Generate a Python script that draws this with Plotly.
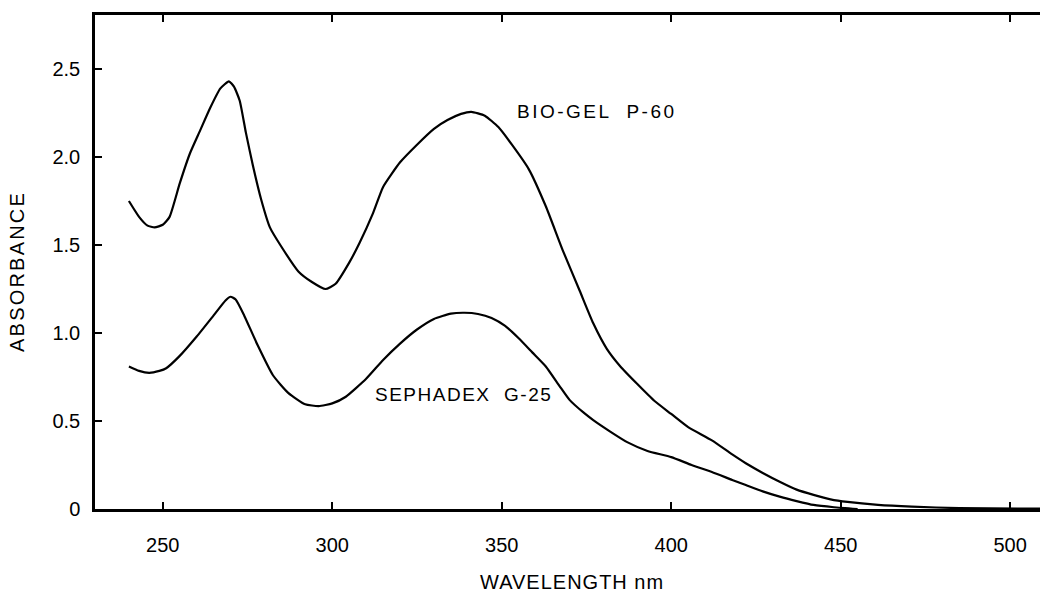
import plotly.graph_objects as go

# BIO-GEL P-60 spectrum
bio_nm = [240, 243, 245.5, 247.6, 250, 252, 255, 258, 261, 264, 267, 269.5, 271, 272.7,
          274.5, 276.6, 279, 281.6, 285, 290, 294, 298, 301, 305, 308, 312, 315, 320, 325,
          330, 334, 338, 341, 345, 349, 353, 358, 363, 368, 373, 377, 381, 385, 390, 395,
          400, 405, 412, 418, 422, 427, 432, 437, 442, 447, 452, 461, 471, 485, 509]
bio_abs = [1.75, 1.66, 1.61, 1.60, 1.615, 1.66, 1.85, 2.02, 2.15, 2.28, 2.39, 2.43, 2.40, 2.32,
           2.14, 1.95, 1.76, 1.60, 1.49, 1.35, 1.29, 1.25, 1.28, 1.40, 1.51, 1.68, 1.83, 1.97, 2.07,
           2.16, 2.21, 2.245, 2.257, 2.235, 2.17, 2.07, 1.93, 1.72, 1.47, 1.24, 1.055, 0.91, 0.81, 0.71, 0.615,
           0.54, 0.465, 0.39, 0.31, 0.26, 0.205, 0.155, 0.11, 0.08, 0.055, 0.04, 0.023, 0.013, 0.005, 0.002]

# SEPHADEX G-25 spectrum
seph_nm = [240, 243, 246, 249, 251, 255, 260, 265, 268.5, 270, 271.5, 274, 278, 282.5, 287,
           292, 296, 300, 304, 310, 315, 320, 325, 330, 335, 339, 343, 347, 351, 355, 359,
           363, 367, 370, 374, 377, 382, 387, 393, 400, 406, 412, 418, 422, 427, 432, 437,
           442, 448, 455]
seph_abs = [0.81, 0.785, 0.774, 0.785, 0.80, 0.87, 0.98, 1.10, 1.185, 1.206, 1.19, 1.10, 0.93, 0.76, 0.66,
            0.595, 0.585, 0.60, 0.638, 0.74, 0.847, 0.94, 1.02, 1.08, 1.11, 1.115, 1.108, 1.085, 1.04, 0.97, 0.89,
            0.81, 0.70, 0.62, 0.55, 0.505, 0.44, 0.38, 0.33, 0.295, 0.25, 0.21, 0.165, 0.136, 0.10, 0.07, 0.045,
            0.023, 0.01, 0.0]

x_ticks = [250, 300, 350, 400, 450, 500]
y_ticks = [0, 0.5, 1.0, 1.5, 2.0, 2.5]
y_tick_text = ["0", "0.5", "1.0", "1.5", "2.0", "2.5"]

FONT = "Liberation Sans, Arial, Helvetica, sans-serif"

fig = go.Figure()
fig.add_trace(go.Scatter(x=bio_nm, y=bio_abs, mode="lines",
                         line=dict(color="black", width=2.2, shape="spline", smoothing=0.5),
                         showlegend=False, name="BIO-GEL P-60"))
fig.add_trace(go.Scatter(x=seph_nm, y=seph_abs, mode="lines",
                         line=dict(color="black", width=2.2, shape="spline", smoothing=0.5),
                         showlegend=False, name="SEPHADEX G-25"))

fig.add_annotation(x=378, y=2.256, text='<span style="letter-spacing:2.5px">BIO-GEL  P-60</span>',
                   showarrow=False, font=dict(family=FONT, size=19, color="black"))
fig.add_annotation(x=338.8, y=0.648, text='<span style="letter-spacing:1.5px">SEPHADEX  G-25</span>',
                   showarrow=False, font=dict(family=FONT, size=19, color="black"))

fig.add_annotation(xref="paper", yref="paper", x=-0.0825, y=0.48,
                   xanchor="center", yanchor="middle",
                   text='<span style="letter-spacing:2.2px">ABSORBANCE</span>',
                   textangle=-90, showarrow=False,
                   font=dict(family=FONT, size=20, color="black"))
fig.add_annotation(xref="paper", yref="paper", x=0.505, y=-0.148,
                   xanchor="center", yanchor="middle",
                   text='<span style="letter-spacing:1px">WAVELENGTH nm</span>',
                   showarrow=False, font=dict(family=FONT, size=20, color="black"))

fig.update_layout(
    width=1040, height=599,
    margin=dict(l=95, r=0, t=15, b=90, autoexpand=False),
    plot_bgcolor="white", paper_bgcolor="white",
    font=dict(family=FONT, size=20, color="black"),
)
fig.update_xaxes(range=[230, 508.8], tickvals=x_ticks, ticks="inside", ticklen=7, tickwidth=2,
                 tickcolor="black", showline=True, linecolor="black", linewidth=2.5,
                 mirror="ticks", showgrid=False, zeroline=False, ticklabelstandoff=16,
                 automargin=False, tickfont=dict(family=FONT, size=20, color="black"))
fig.update_yaxes(range=[0, 2.807], tickvals=y_ticks, ticktext=y_tick_text, ticks="inside",
                 ticklen=7, tickwidth=2, tickcolor="black", showline=True, linecolor="black",
                 linewidth=2.5, mirror=False, showgrid=False, zeroline=False, automargin=False,
                 ticklabelstandoff=8, tickfont=dict(family=FONT, size=20, color="black"))

fig.write_html("out.html", config={"displayModeBar": False},
               post_script="document.body.style.margin='0';document.body.style.overflow='hidden';")
